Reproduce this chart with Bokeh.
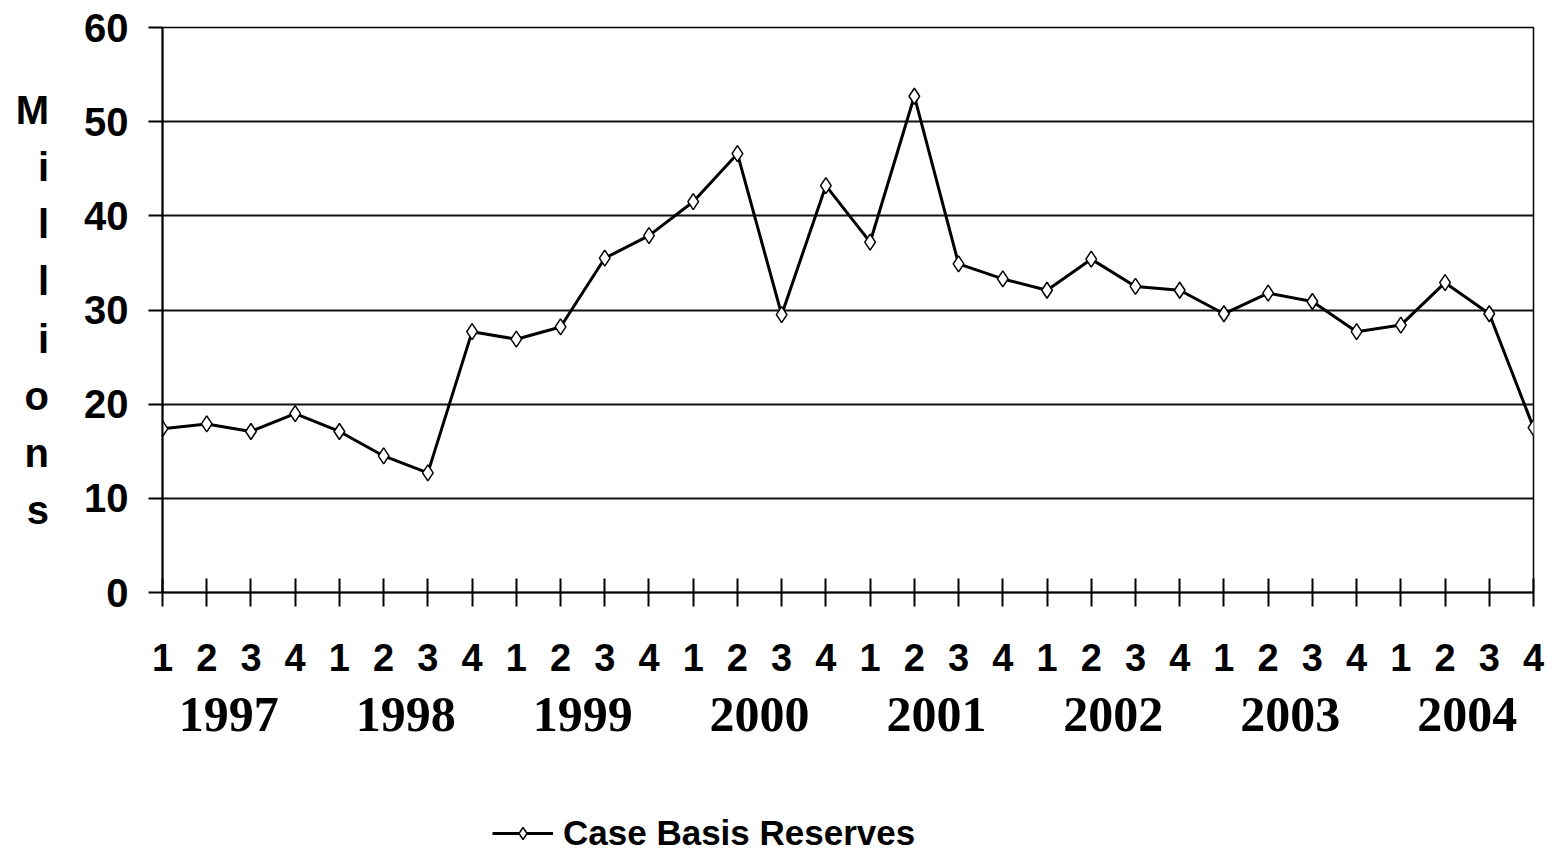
from bokeh.plotting import figure
from bokeh.layouts import column
from bokeh.models import Range1d, FixedTicker, LinearAxis, Legend, LegendItem, ColumnDataSource
from bokeh.embed import file_html
from bokeh.resources import INLINE

# ---- data ----
years = ["1997", "1998", "1999", "2000", "2001", "2002", "2003", "2004"]
quarters = ["1", "2", "3", "4"]
reserves = [17.4, 17.9, 17.1, 19.0, 17.1, 14.5, 12.7, 27.7,
            26.9, 28.2, 35.5, 37.9, 41.5, 46.6, 29.5, 43.2,
            37.2, 52.7, 34.9, 33.3, 32.1, 35.4, 32.5, 32.1,
            29.6, 31.8, 30.9, 27.7, 28.4, 32.9, 29.6, 17.5]
series_name = "Case Basis Reserves"
y_ticks = [0, 10, 20, 30, 40, 50, 60]
y_title = "Millions"

x = list(range(len(reserves)))
n = len(reserves)
src = ColumnDataSource(data=dict(x=x, y=reserves))

SANS = "Liberation Sans"
SERIF = "Liberation Serif"

p = figure(frame_width=1371, frame_height=565, output_backend="svg", toolbar_location=None,
           x_range=Range1d(0, n - 1), y_range=Range1d(0, 60),
           min_border_left=162, min_border_right=21, min_border_top=27,
           min_border_bottom=0, background_fill_color="white",
           border_fill_color="white")

p.outline_line_color = "black"
p.outline_line_width = 1.5

# grid
p.xgrid.visible = False
p.ygrid.ticker = FixedTicker(ticks=y_ticks)
p.ygrid.grid_line_color = "#111111"
p.ygrid.grid_line_width = 2

# y axis
ya = p.yaxis[0]
ya.ticker = FixedTicker(ticks=y_ticks)
ya.axis_line_color = "black"
ya.axis_line_width = 2
ya.major_tick_out = 14
ya.major_tick_in = 0
ya.major_tick_line_width = 2
ya.minor_tick_line_color = None
ya.major_label_standoff = 20
ya.major_label_text_font = SANS
ya.major_label_text_font_style = "bold"
ya.major_label_text_font_size = "40px"
ya.major_label_text_color = "black"
ya.axis_label = "\n".join(list(y_title))
ya.axis_label_orientation = "horizontal"
ya.axis_label_text_font = SANS
ya.axis_label_text_font_style = "bold"
ya.axis_label_text_font_size = "40px"
ya.axis_label_text_line_height = 1.30
ya.axis_label_standoff = 32
ya.axis_label_text_color = "black"

# x axis (quarters)
xa = p.xaxis[0]
xa.ticker = FixedTicker(ticks=x)
xa.major_label_overrides = {i: quarters[i % 4] for i in x}
xa.axis_line_color = "black"
xa.axis_line_width = 2
xa.major_tick_in = 14
xa.major_tick_out = 14
xa.major_tick_line_width = 2
xa.minor_tick_line_color = None
xa.major_label_standoff = 37
xa.major_label_text_font = SANS
xa.major_label_text_font_style = "bold"
xa.major_label_text_font_size = "38px"
xa.major_label_text_color = "black"

# year axis
year_pos = [4 * k + 1.5 for k in range(len(years))]
year_axis = LinearAxis(ticker=FixedTicker(ticks=year_pos),
                       major_label_overrides={pos: yr for pos, yr in zip(year_pos, years)},
                       axis_line_color=None, major_tick_line_color=None,
                       minor_tick_line_color=None, major_tick_out=0, major_tick_in=0,
                       major_label_standoff=24,
                       major_label_text_font=SERIF,
                       major_label_text_font_style="bold",
                       major_label_text_font_size="50px",
                       major_label_text_color="black",
                       axis_label=" ", axis_label_standoff=0,
                       axis_label_text_font_size="8px")
p.add_layout(year_axis, "below")

# data
line_style = dict(line_color="black", line_width=3)
pt_style = dict(marker="diamond", size=16, fill_color="white",
                line_color="black", line_width=1.5)
p.line("x", "y", source=src, **line_style)
p.scatter("x", "y", source=src, **pt_style)

# legend strip (separate, frameless figure below the chart, frame aligned with chart)
lf = figure(frame_width=1371, height=108, output_backend="svg", toolbar_location=None,
            x_range=Range1d(-10, -9), y_range=Range1d(-10, -9),
            x_axis_location=None, y_axis_location=None,
            min_border_left=162, min_border_right=21, min_border_top=0,
            min_border_bottom=0, outline_line_color=None,
            background_fill_color="white", border_fill_color="white")
lf.grid.visible = False
l_line = lf.line("x", "y", source=src, **line_style)
l_pts = lf.scatter("x", "y", source=src, **pt_style)

legend = Legend(items=[LegendItem(label=series_name, renderers=[l_line, l_pts])],
                location=(330, 0), orientation="horizontal",
                border_line_color=None, background_fill_alpha=0,
                padding=0, margin=0, spacing=0,
                glyph_width=61, glyph_height=30, label_standoff=10,
                label_text_font=SANS, label_text_font_style="bold",
                label_text_font_size="35px", label_text_color="black")
lf.add_layout(legend, "center")

layout = column(p, lf, spacing=0)
open("out.html", "w").write(file_html(layout, INLINE))
